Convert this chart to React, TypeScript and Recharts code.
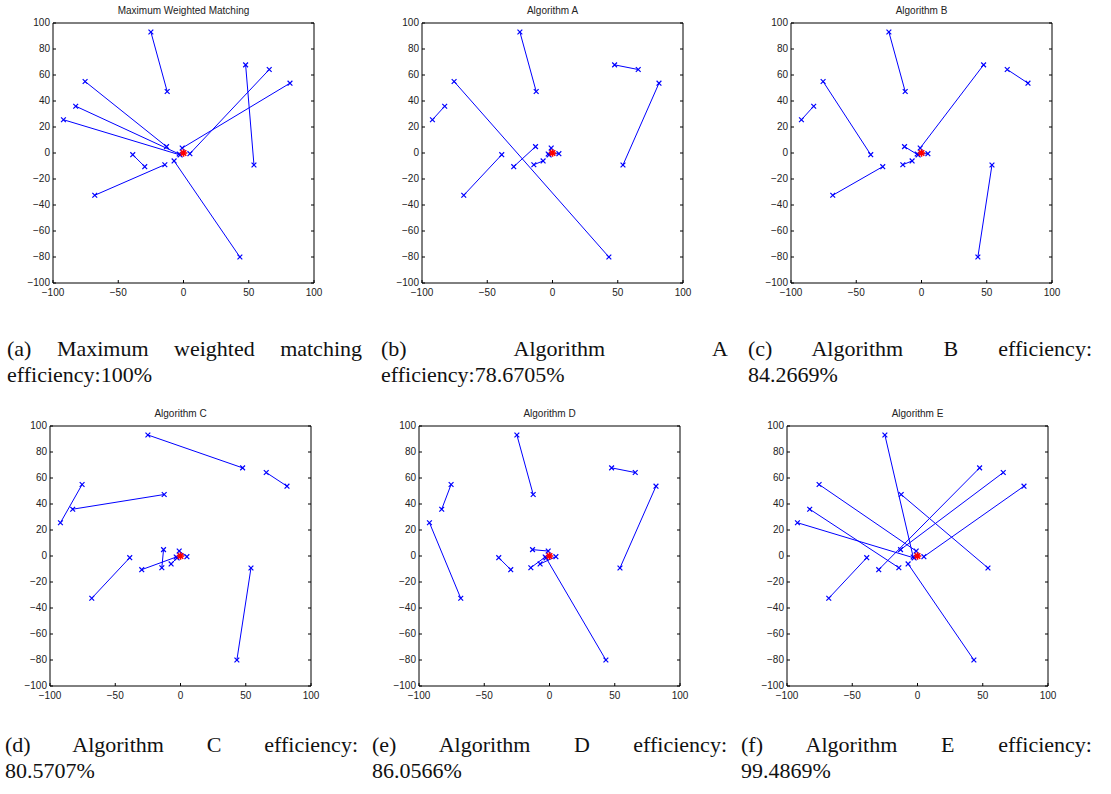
import { ScatterChart, Scatter, XAxis, YAxis, ReferenceLine } from "recharts";

// node positions
const pointNames = ["A", "B", "C", "D", "E", "F", "G", "H", "I", "J", "K", "L", "M", "N", "O", "P", "Q", "R", "S", "T"];
const pointX = [-25, -12.5, -75.4, -82.6, -92, 47.6, 65.7, 81.6, 54, 43.2, -68, -38.9, -29.7, -14.3, -13, -7.2, -1, -3.3, -2.6, 4.9];
const pointY = [93.1, 47.3, 55, 36, 25.6, 67.8, 64.2, 53.7, -9.2, -80, -32.5, -1.3, -10.5, -9, 4.9, -6.1, 3.8, -0.8, -1.5, -0.5];
const sinkPoint = [{ x: 0, y: 0 }];

const xTicks = [-100, -50, 0, 50, 100];
const yTicks = [-100, -80, -60, -40, -20, 0, 20, 40, 60, 80, 100];

// matchings, one list of pairs per panel
const matchMWM = [["A", "B"], ["C", "O"], ["D", "R"], ["E", "S"], ["G", "T"], ["H", "Q"], ["F", "I"], ["K", "N"], ["L", "M"], ["P", "J"]];
const matchA = [["A", "B"], ["F", "G"], ["H", "I"], ["D", "E"], ["C", "J"], ["K", "L"], ["M", "O"], ["N", "P"], ["Q", "S"], ["R", "T"]];
const matchB = [["A", "B"], ["G", "H"], ["D", "E"], ["C", "L"], ["K", "M"], ["F", "Q"], ["I", "J"], ["N", "P"], ["O", "S"], ["R", "T"]];
const matchC = [["A", "F"], ["G", "H"], ["C", "E"], ["D", "B"], ["K", "L"], ["O", "N"], ["I", "J"], ["M", "R"], ["P", "S"], ["Q", "T"]];
const matchD = [["A", "B"], ["F", "G"], ["H", "I"], ["C", "D"], ["E", "K"], ["L", "M"], ["O", "Q"], ["N", "R"], ["J", "S"], ["P", "T"]];
const matchE = [["A", "R"], ["C", "Q"], ["E", "S"], ["D", "N"], ["F", "M"], ["G", "O"], ["H", "T"], ["B", "I"], ["K", "L"], ["P", "J"]];

const titles = ["Maximum Weighted Matching", "Algorithm A", "Algorithm B", "Algorithm C", "Algorithm D", "Algorithm E"];
const captionFirst = [
  "(a) Maximum weighted matching",
  "(b) Algorithm A",
  "(c) Algorithm B efficiency:",
  "(d) Algorithm C efficiency:",
  "(e) Algorithm D efficiency:",
  "(f) Algorithm E efficiency:",
];
const captionSecond = ["efficiency:100%", "efficiency:78.6705%", "84.2669%", "80.5707%", "86.0566%", "99.4869%"];

const BLUE = "#0000ff";
const RED = "#ff0000";
const tickFont = { fontFamily: "'Liberation Sans', Arial, sans-serif", fontSize: 10, fill: "#222" };

const points = pointNames.map((name, i) => ({ name, x: pointX[i], y: pointY[i] }));
const pos = (name: string) => points.find((p) => p.name === name)!;

const panels = [
  { left: 53, top: 23, pairs: matchMWM },
  { left: 422, top: 23, pairs: matchA },
  { left: 791, top: 23, pairs: matchB },
  { left: 50, top: 426, pairs: matchC },
  { left: 419, top: 426, pairs: matchD },
  { left: 787, top: 426, pairs: matchE },
];
const captionBoxes = [
  { left: 7, top: 336, width: 355 },
  { left: 381, top: 336, width: 347 },
  { left: 748, top: 336, width: 344 },
  { left: 5, top: 732, width: 353 },
  { left: 372, top: 732, width: 355 },
  { left: 741, top: 732, width: 351 },
];

const fmt = (v: number) => (v < 0 ? "\u2212" + Math.abs(v) : String(v));

const BottomTick = (props: any) => {
  const { x, y, payload } = props;
  return (
    <g>
      <line x1={x} y1={y} x2={x} y2={y - 3} stroke="#000" />
      <text x={x} y={y + 13} textAnchor="middle" {...tickFont}>
        {fmt(payload.value)}
      </text>
    </g>
  );
};
const TopTick = (props: any) => {
  const { x, y } = props;
  return <line x1={x} y1={y} x2={x} y2={y + 3} stroke="#000" />;
};
const LeftTick = (props: any) => {
  const { x, y, payload } = props;
  return (
    <g>
      <line x1={x} y1={y} x2={x + 3} y2={y} stroke="#000" />
      <text x={x - 3} y={y} dy="0.3em" textAnchor="end" {...tickFont}>
        {fmt(payload.value)}
      </text>
    </g>
  );
};
const RightTick = (props: any) => {
  const { x, y } = props;
  return <line x1={x} y1={y} x2={x - 3} y2={y} stroke="#000" />;
};

const XMark = (props: any) => {
  const { cx, cy } = props;
  const s = 2.4;
  return (
    <path
      d={`M${cx - s},${cy - s}L${cx + s},${cy + s}M${cx - s},${cy + s}L${cx + s},${cy - s}`}
      stroke={BLUE}
      strokeWidth={1.2}
      fill="none"
    />
  );
};
const Star = (props: any) => {
  const { cx, cy } = props;
  const s = 3.8;
  const d = 2.8;
  return (
    <path
      d={`M${cx - s},${cy}L${cx + s},${cy}M${cx},${cy - s}L${cx},${cy + s}M${cx - d},${cy - d}L${cx + d},${cy + d}M${cx - d},${cy + d}L${cx + d},${cy - d}`}
      stroke={RED}
      strokeWidth={1.6}
      fill="none"
    />
  );
};

function Panel({ left, top, title, pairs }: { left: number; top: number; title: string; pairs: string[][] }) {
  // plot box is 261 x 260; each axis takes 1px of the margin
  const m = { top: 24, right: 19, bottom: 21, left: 39 };
  const w = 261 + m.left + m.right + 2;
  const h = 260 + m.top + m.bottom + 2;
  return (
    <div style={{ position: "absolute", left: left - m.left - 1, top: top - m.top - 1, width: w, height: h }}>
      <div
        style={{
          position: "absolute",
          left: m.left + 1,
          width: 261,
          top: 7,
          textAlign: "center",
          fontFamily: "'Liberation Sans', Arial, sans-serif",
          fontSize: 10,
          color: "#222",
        }}
      >
        {title}
      </div>
      <ScatterChart width={w} height={h} margin={m}>
        <XAxis
          type="number"
          dataKey="x"
          domain={[-100, 100]}
          ticks={xTicks}
          interval={0}
          height={1}
          tickSize={0}
          tickMargin={0}
          tickLine={false}
          tick={<BottomTick />}
          axisLine={{ stroke: "#000" }}
          allowDataOverflow
        />
        <XAxis
          xAxisId="top"
          orientation="top"
          type="number"
          domain={[-100, 100]}
          ticks={xTicks}
          interval={0}
          height={1}
          tickSize={0}
          tickMargin={0}
          tickLine={false}
          tick={<TopTick />}
          axisLine={{ stroke: "#000" }}
          allowDataOverflow
        />
        <YAxis
          type="number"
          dataKey="y"
          domain={[-100, 100]}
          ticks={yTicks}
          interval={0}
          width={1}
          tickSize={0}
          tickMargin={0}
          tickLine={false}
          tick={<LeftTick />}
          axisLine={{ stroke: "#000" }}
          allowDataOverflow
        />
        <YAxis
          yAxisId="right"
          orientation="right"
          type="number"
          domain={[-100, 100]}
          ticks={yTicks}
          interval={0}
          width={1}
          tickSize={0}
          tickMargin={0}
          tickLine={false}
          tick={<RightTick />}
          axisLine={{ stroke: "#000" }}
          allowDataOverflow
        />
        {pairs.map(([a, b]) => (
          <ReferenceLine
            key={a + b}
            segment={[
              { x: pos(a).x, y: pos(a).y },
              { x: pos(b).x, y: pos(b).y },
            ]}
            stroke={BLUE}
            strokeWidth={1}
            ifOverflow="visible"
          />
        ))}
        <Scatter data={points} shape={<XMark />} isAnimationActive={false} />
        <Scatter data={sinkPoint} shape={<Star />} isAnimationActive={false} />
      </ScatterChart>
    </div>
  );
}

export default function App() {
  const capFont = {
    fontFamily: "'Liberation Serif', 'Times New Roman', serif",
    fontSize: 22,
    lineHeight: "26px",
    color: "#111",
  };
  return (
    <div style={{ position: "absolute", left: 0, top: 0, width: 1111, height: 794, background: "#fff", overflow: "hidden" }}>
      {panels.map((p, i) => (
        <Panel key={titles[i]} left={p.left} top={p.top} title={titles[i]} pairs={p.pairs} />
      ))}
      {captionBoxes.map((c, i) => (
        <div key={captionFirst[i]} style={{ position: "absolute", left: c.left, top: c.top, width: c.width, ...capFont }}>
          <div style={{ textAlign: "justify", textAlignLast: "justify", whiteSpace: "normal" }}>{captionFirst[i]}</div>
          <div style={{ textAlign: "left", whiteSpace: "nowrap" }}>{captionSecond[i]}</div>
        </div>
      ))}
    </div>
  );
}
